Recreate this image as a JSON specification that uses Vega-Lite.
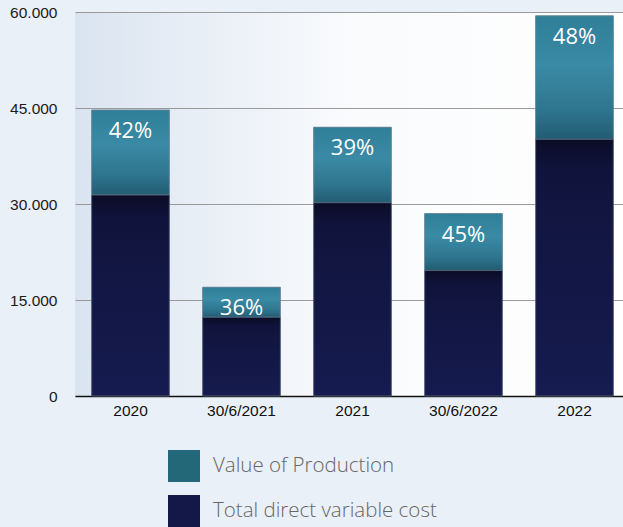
{
  "$schema": "https://vega.github.io/schema/vega-lite/v6.json",
  "width": 555,
  "height": 384,
  "autosize": "none",
  "padding": {"left": 75, "top": 12, "right": 0, "bottom": 131},
  "background": "#eaf0f7",
  "config": {
    "view": {
      "stroke": null,
      "fill": {"gradient": "linear", "x1": 0, "y1": 0, "x2": 1, "y2": 0,
        "stops": [{"offset": 0, "color": "#dae4f0"}, {"offset": 0.5, "color": "#fafbfd"}, {"offset": 1, "color": "#ffffff"}]}
    },
    "font": "Liberation Sans"
  },
  "data": {
    "values": [
      {"period": "2020", "series": "Total direct variable cost", "value": 31400},
      {"period": "2020", "series": "Value of Production", "value": 13300, "label": "42%"},
      {"period": "30/6/2021", "series": "Total direct variable cost", "value": 12300},
      {"period": "30/6/2021", "series": "Value of Production", "value": 4700, "label": "36%"},
      {"period": "2021", "series": "Total direct variable cost", "value": 30200},
      {"period": "2021", "series": "Value of Production", "value": 11800, "label": "39%"},
      {"period": "30/6/2022", "series": "Total direct variable cost", "value": 19600},
      {"period": "30/6/2022", "series": "Value of Production", "value": 8900, "label": "45%"},
      {"period": "2022", "series": "Total direct variable cost", "value": 40100},
      {"period": "2022", "series": "Value of Production", "value": 19300, "label": "48%"}
    ]
  },
  "transform": [
    {"stack": "value", "groupby": ["period"], "sort": [{"field": "series", "order": "ascending"}], "as": ["y0", "y1"]}
  ],
  "encoding": {
    "x": {
      "field": "period", "type": "nominal",
      "sort": ["2020", "30/6/2021", "2021", "30/6/2022", "2022"],
      "scale": {"paddingInner": 0.3, "paddingOuter": 0.15},
      "axis": {"title": null, "labelAngle": 0, "labelFontSize": 15.5, "labelColor": "#111111", "labelPadding": 7, "ticks": false, "domainColor": "#111111", "domainWidth": 1.5}
    }
  },
  "layer": [
    {
      "mark": {"type": "bar"},
      "encoding": {
        "y": {
          "field": "y1", "type": "quantitative",
          "scale": {"domain": [0, 60000], "nice": false},
          "axis": {"title": null, "values": [0, 15000, 30000, 45000, 60000], "labelExpr": "replace(format(datum.value, ','), ',', '.')", "labelFontSize": 15.5, "labelColor": "#1a1a1a", "labelPadding": 18, "ticks": false, "domain": false, "gridColor": "#9a9a9a", "gridWidth": 1}
        },
        "y2": {"field": "y0"},
        "color": {
          "field": "series", "type": "nominal",
          "scale": {"domain": ["Value of Production", "Total direct variable cost"], "range": ["#236878", "#131848"]},
          "legend": {"title": null, "orient": "none", "legendX": 93, "legendY": 438, "symbolType": "square", "symbolSize": 1024, "symbolStrokeWidth": 0, "symbolOpacity": 1, "labelFont": "Open Sans", "labelFontSize": 20.5, "labelFontWeight": 300, "labelColor": "#666666", "labelOffset": 13, "rowPadding": 13, "labelLimit": 400}
        }
      }
    },
    {
      "transform": [{"filter": "datum.series === 'Value of Production'"}],
      "mark": {"type": "bar", "stroke": "#6f8696", "strokeWidth": 0.8,
        "fill": {"gradient": "linear", "x1": 0, "y1": 0, "x2": 0, "y2": 1,
          "stops": [{"offset": 0, "color": "#307f99"}, {"offset": 0.4, "color": "#3a8aa5"}, {"offset": 0.75, "color": "#2f768f"}, {"offset": 1, "color": "#225c72"}]}},
      "encoding": {"y": {"field": "y1", "type": "quantitative"}, "y2": {"field": "y0"}}
    },
    {
      "transform": [{"filter": "datum.series === 'Total direct variable cost'"}],
      "mark": {"type": "bar", "stroke": "#5b6a7c", "strokeWidth": 0.8,
        "fill": {"gradient": "linear", "x1": 0, "y1": 0, "x2": 0, "y2": 1,
          "stops": [{"offset": 0, "color": "#0a0c26"}, {"offset": 0.12, "color": "#10143c"}, {"offset": 1, "color": "#161b50"}]}},
      "encoding": {"y": {"field": "y1", "type": "quantitative"}, "y2": {"field": "y0"}}
    },
    {
      "transform": [{"filter": "datum.series === 'Value of Production'"}],
      "mark": {"type": "text", "font": "Open Sans", "fontSize": 22, "fontWeight": 500, "color": "#ffffff", "baseline": "middle", "dy": 21},
      "encoding": {"y": {"field": "y1", "type": "quantitative"}, "text": {"field": "label"}}
    }
  ]
}
